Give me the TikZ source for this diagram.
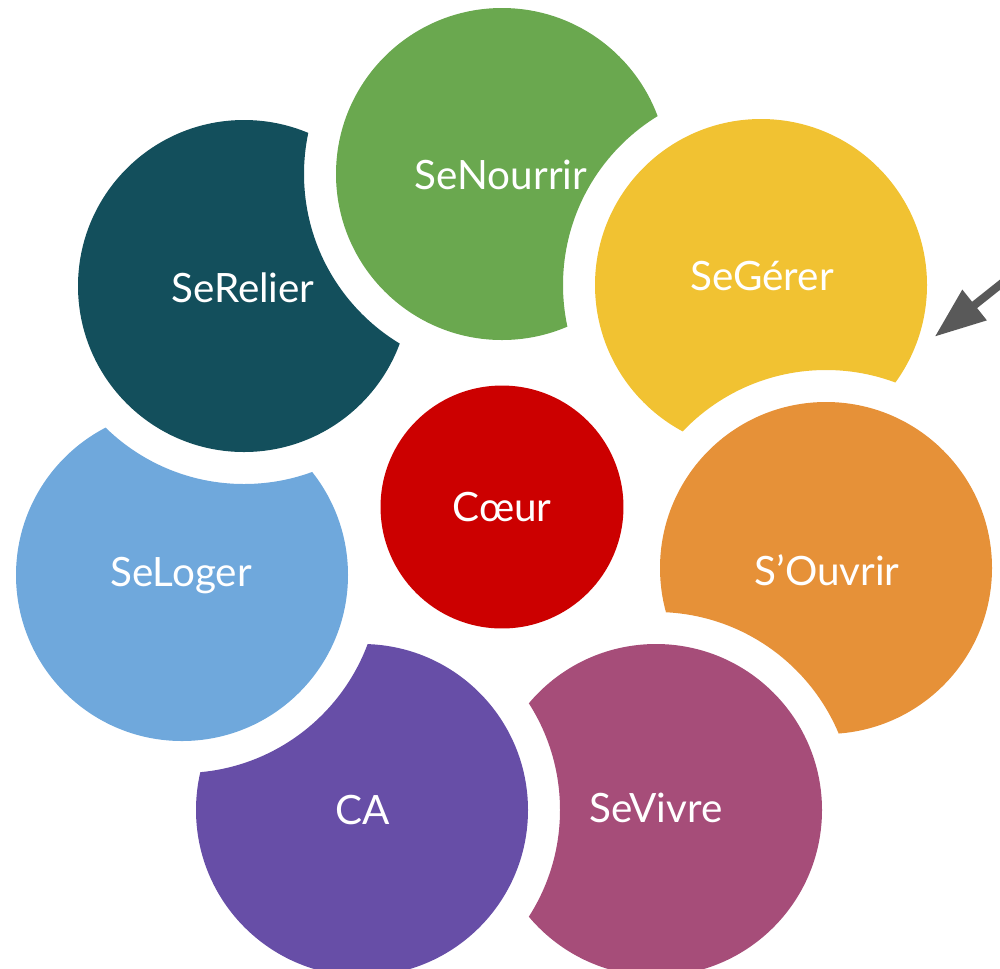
\documentclass[tikz,border=0pt]{standalone}
\usepackage{fontspec}
\setmainfont{Lato}
\usetikzlibrary{arrows.meta}
\definecolor{cnour}{HTML}{6AA84F}
\definecolor{cgere}{HTML}{F1C232}
\definecolor{couvr}{HTML}{E69138}
\definecolor{cvivr}{HTML}{A64D79}
\definecolor{cca}{HTML}{674EA7}
\definecolor{cloge}{HTML}{6FA8DC}
\definecolor{creli}{HTML}{134F5C}
\definecolor{ccoeur}{HTML}{CC0000}
\definecolor{carrow}{HTML}{595959}
\newcommand\ringpiece[3]{%
  \begin{scope}
    \clip (#2) circle[radius=166];
    \fill[#1, even odd rule] (-200,-200) rectangle (1200,1200) (#3) circle[radius=198];
  \end{scope}}
\begin{document}
\begin{tikzpicture}[x=0.02cm,y=-0.02cm,
  lab/.style={text=white,font=\fontsize{23}{23}\selectfont},
  arrowline/.style={draw=carrow,line width=4.6pt,-{Triangle[length=1.02cm,width=0.74cm]}}]
\useasboundingbox (0,0) rectangle (1000,968);
\clip (0,0) rectangle (1000,968);
\coordinate (cN) at (502,174);
\coordinate (cG) at (761,285);
\coordinate (cO) at (826,568);
\coordinate (cV) at (656,810);
\coordinate (cA) at (362,810);
\coordinate (cL) at (182,575);
\coordinate (cR) at (244,286);
\ringpiece{cnour}{cN}{cG}
\ringpiece{cgere}{cG}{cO}
\ringpiece{couvr}{cO}{cV}
\ringpiece{cvivr}{cV}{cA}
\ringpiece{cca}{cA}{cL}
\ringpiece{cloge}{cL}{cR}
\ringpiece{creli}{cR}{cN}
\node[lab] (tN) at (501,175) {SeNourrir};
\node[lab] (tG) at (762,276) {SeGérer};
\node[lab] (tO) at (827,570) {S’Ouvrir};
\node[lab] (tV) at (656,808) {SeVivre};
\node[lab] (tA) at (363,810) {CA};
\node[lab] (tL) at (181,576) {SeLoger};
\node[lab] (tR) at (243,288) {SeRelier};
\node[lab, circle, fill=ccoeur, inner sep=0pt, minimum size=4.86cm] (coeur) at (502,507) {Cœur};
\coordinate (arrowstart) at (1021,268);
\coordinate (arrowtip) at (934.7,336.7);
\draw[arrowline] (arrowstart) -- (arrowtip);
\end{tikzpicture}
\end{document}
